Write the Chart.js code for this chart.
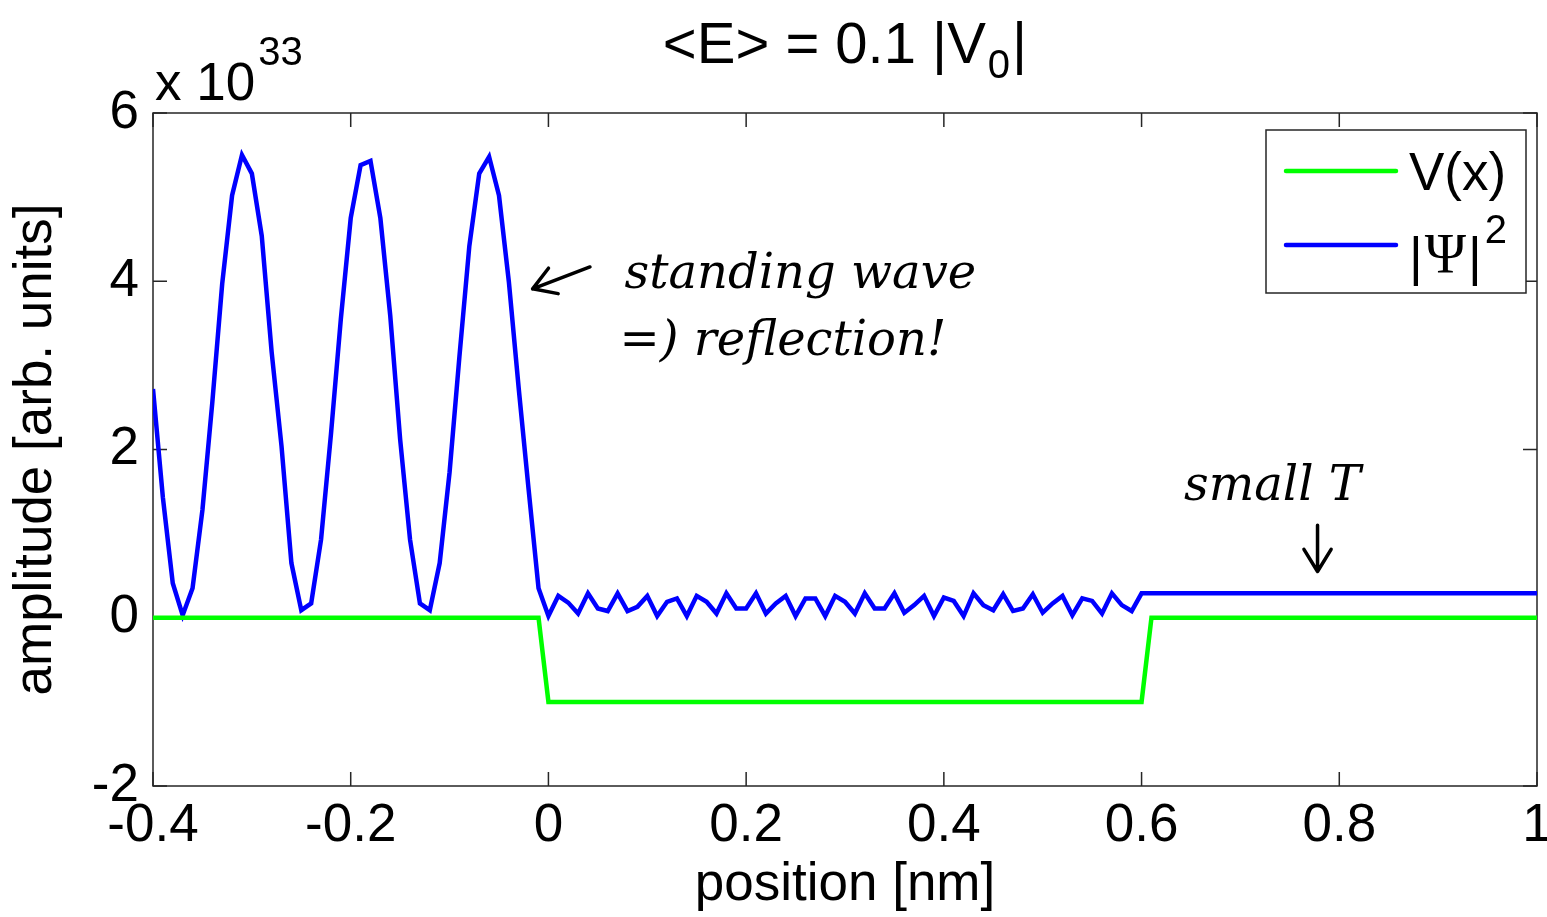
<!DOCTYPE html>
<html>
<head>
<meta charset="utf-8">
<script src="https://cdn.jsdelivr.net/npm/chart.js@4.4.1/dist/chart.umd.min.js"></script>
<style>
  html, body { margin: 0; padding: 0; background: #fff; }
  #wrap { width: 1547px; height: 917px; }
</style>
</head>
<body>
<div id="wrap"><canvas id="grafico" width="1547" height="917"></canvas></div>
<script>
// sampling positions [nm]
var positions = [
  -0.40, -0.39, -0.38, -0.37, -0.36, -0.35, -0.34, -0.33, -0.32, -0.31,
  -0.30, -0.29, -0.28, -0.27, -0.26, -0.25, -0.24, -0.23, -0.22, -0.21,
  -0.20, -0.19, -0.18, -0.17, -0.16, -0.15, -0.14, -0.13, -0.12, -0.11,
  -0.10, -0.09, -0.08, -0.07, -0.06, -0.05, -0.04, -0.03, -0.02, -0.01,
  0.00, 0.01, 0.02, 0.03, 0.04, 0.05, 0.06, 0.07, 0.08, 0.09,
  0.10, 0.11, 0.12, 0.13, 0.14, 0.15, 0.16, 0.17, 0.18, 0.19,
  0.20, 0.21, 0.22, 0.23, 0.24, 0.25, 0.26, 0.27, 0.28, 0.29,
  0.30, 0.31, 0.32, 0.33, 0.34, 0.35, 0.36, 0.37, 0.38, 0.39,
  0.40, 0.41, 0.42, 0.43, 0.44, 0.45, 0.46, 0.47, 0.48, 0.49,
  0.50, 0.51, 0.52, 0.53, 0.54, 0.55, 0.56, 0.57, 0.58, 0.59,
  0.60, 0.61, 0.62, 0.63, 0.64, 0.65, 0.66, 0.67, 0.68, 0.69,
  0.70, 0.71, 0.72, 0.73, 0.74, 0.75, 0.76, 0.77, 0.78, 0.79,
  0.80, 0.81, 0.82, 0.83, 0.84, 0.85, 0.86, 0.87, 0.88, 0.89,
  0.90, 0.91, 0.92, 0.93, 0.94, 0.95, 0.96, 0.97, 0.98, 0.99,
  1.00
];

// V(x), in units of |V0|
var potential = [
  0, 0, 0, 0, 0, 0, 0, 0, 0, 0,
  0, 0, 0, 0, 0, 0, 0, 0, 0, 0,
  0, 0, 0, 0, 0, 0, 0, 0, 0, 0,
  0, 0, 0, 0, 0, 0, 0, 0, 0, 0,
  -1, -1, -1, -1, -1, -1, -1, -1, -1, -1,
  -1, -1, -1, -1, -1, -1, -1, -1, -1, -1,
  -1, -1, -1, -1, -1, -1, -1, -1, -1, -1,
  -1, -1, -1, -1, -1, -1, -1, -1, -1, -1,
  -1, -1, -1, -1, -1, -1, -1, -1, -1, -1,
  -1, -1, -1, -1, -1, -1, -1, -1, -1, -1,
  -1, 0, 0, 0, 0, 0, 0, 0, 0, 0,
  0, 0, 0, 0, 0, 0, 0, 0, 0, 0,
  0, 0, 0, 0, 0, 0, 0, 0, 0, 0,
  0, 0, 0, 0, 0, 0, 0, 0, 0, 0,
  0
];

// |Psi|^2 in units of 1e33
var psiSq = [
  2.72, 1.43, 0.41, 0.03, 0.35, 1.28, 2.56, 3.97, 5.02, 5.50,
  5.28, 4.54, 3.16, 2.04, 0.65, 0.09, 0.17, 0.93, 2.18, 3.55,
  4.75, 5.38, 5.43, 4.75, 3.59, 2.12, 0.93, 0.17, 0.09, 0.65,
  1.73, 3.11, 4.42, 5.28, 5.48, 5.02, 3.99, 2.72, 1.52, 0.35,
  0.02, 0.26, 0.18, 0.05, 0.29, 0.11, 0.08, 0.29, 0.08, 0.13,
  0.26, 0.02, 0.19, 0.23, 0.02, 0.26, 0.19, 0.05, 0.29, 0.11,
  0.11, 0.29, 0.05, 0.17, 0.26, 0.02, 0.23, 0.23, 0.02, 0.26,
  0.19, 0.05, 0.29, 0.11, 0.11, 0.29, 0.06, 0.15, 0.26, 0.02,
  0.24, 0.20, 0.02, 0.29, 0.15, 0.09, 0.28, 0.08, 0.11, 0.28,
  0.06, 0.17, 0.26, 0.03, 0.23, 0.20, 0.05, 0.29, 0.15, 0.08,
  0.29, 0.29, 0.29, 0.29, 0.29, 0.29, 0.29, 0.29, 0.29, 0.29,
  0.29, 0.29, 0.29, 0.29, 0.29, 0.29, 0.29, 0.29, 0.29, 0.29,
  0.29, 0.29, 0.29, 0.29, 0.29, 0.29, 0.29, 0.29, 0.29, 0.29,
  0.29, 0.29, 0.29, 0.29, 0.29, 0.29, 0.29, 0.29, 0.29, 0.29,
  0.29
];

var xTicks = [-0.4, -0.2, 0, 0.2, 0.4, 0.6, 0.8, 1];
var yTicks = [-2, 0, 2, 4, 6];

// handwritten notes, placed in data coordinates
var notes = [
  { text: 'standing wave', x: 0.077, y: 3.92 },
  { text: '=) reflection!', x: 0.072, y: 3.12 },
  { text: 'small T', x: 0.643, y: 1.40 }
];

function points(ys) {
  return ys.map(function (v, i) { return { x: positions[i], y: v }; });
}

Chart.defaults.font.family = '"Liberation Sans", Arial, sans-serif';
Chart.defaults.color = '#000';

var FS = 53;

var matlabFrame = {
  id: 'matlabFrame',
  beforeDatasetsDraw: function (chart) {
    var ctx = chart.ctx, a = chart.chartArea, x = chart.scales.x, y = chart.scales.y;
    ctx.save();
    ctx.strokeStyle = '#262626';
    ctx.lineWidth = 1.5;
    ctx.strokeRect(a.left, a.top, a.right - a.left, a.bottom - a.top);
    ctx.beginPath();
    xTicks.forEach(function (t) {
      var px = x.getPixelForValue(t);
      ctx.moveTo(px, a.bottom); ctx.lineTo(px, a.bottom - 14);
      ctx.moveTo(px, a.top); ctx.lineTo(px, a.top + 14);
    });
    yTicks.forEach(function (t) {
      var py = y.getPixelForValue(t);
      ctx.moveTo(a.left, py); ctx.lineTo(a.left + 14, py);
      ctx.moveTo(a.right, py); ctx.lineTo(a.right - 14, py);
    });
    ctx.stroke();
    ctx.restore();
  },
  afterDraw: function (chart) {
    var ctx = chart.ctx, a = chart.chartArea, x = chart.scales.x, y = chart.scales.y;
    ctx.save();
    ctx.fillStyle = '#000';
    ctx.textBaseline = 'alphabetic';

    // title: <E> = 0.1 |V0|
    var big = '58px "Liberation Sans"', small = '40px "Liberation Sans"';
    ctx.font = big;
    var p1 = '<E> = 0.1 |V', p3 = '|';
    var w1 = ctx.measureText(p1).width, w3 = ctx.measureText(p3).width;
    ctx.font = small;
    var w2 = ctx.measureText('0').width;
    var cx = (a.left + a.right) / 2;
    var tx = cx - (w1 + w2 + w3 + 4) / 2;
    ctx.font = big;
    ctx.fillText(p1, tx, 63);
    ctx.font = small;
    ctx.fillText('0', tx + w1 + 2, 78);
    ctx.font = big;
    ctx.fillText(p3, tx + w1 + w2 + 4, 63);

    // exponent label
    ctx.font = FS + 'px "Liberation Sans"';
    ctx.fillText('x 10', a.left + 2, 100);
    var wx = ctx.measureText('x 10').width;
    ctx.font = '40px "Liberation Sans"';
    ctx.fillText('33', a.left + 2 + wx + 3, 65);

    // legend
    var lw = 260, lh = 163;
    var lx = a.right - 11 - lw, ly = a.top + 17;
    ctx.fillStyle = '#fff';
    ctx.fillRect(lx, ly, lw, lh);
    ctx.strokeStyle = '#262626';
    ctx.lineWidth = 1.5;
    ctx.strokeRect(lx, ly, lw, lh);
    var rows = [ly + 41, ly + 115];
    chart.data.datasets.forEach(function (ds, i) {
      ctx.strokeStyle = ds.borderColor;
      ctx.lineWidth = 4.5;
      ctx.lineCap = 'round';
      ctx.beginPath();
      ctx.moveTo(lx + 20, rows[i]);
      ctx.lineTo(lx + 130, rows[i]);
      ctx.stroke();
    });
    ctx.fillStyle = '#000';
    ctx.font = FS + 'px "Liberation Sans"';
    ctx.fillText('V(x)', lx + 143, rows[0] + 19);
    var bx = lx + 143, by = rows[1] + 30;
    ctx.fillText('|', bx, by);
    bx += ctx.measureText('|').width + 2;
    ctx.font = '56px "Liberation Serif"';
    ctx.fillText('\u03A8', bx, by - 2);
    bx += ctx.measureText('\u03A8').width + 2;
    ctx.font = FS + 'px "Liberation Sans"';
    ctx.fillText('|', bx, by);
    bx += ctx.measureText('|').width + 3;
    ctx.font = '40px "Liberation Sans"';
    ctx.fillText('2', bx, by - 32);

    // handwritten notes
    ctx.font = 'italic 48px "DejaVu Serif"';
    notes.forEach(function (n) {
      ctx.fillText(n.text, x.getPixelForValue(n.x), y.getPixelForValue(n.y));
    });

    // arrows
    ctx.strokeStyle = '#000';
    ctx.lineWidth = 3.5;
    ctx.lineCap = 'round';
    ctx.lineJoin = 'round';
    function arrow(x0, y0, x1, y1) {
      var X0 = x.getPixelForValue(x0), Y0 = y.getPixelForValue(y0);
      var X1 = x.getPixelForValue(x1), Y1 = y.getPixelForValue(y1);
      var ang = Math.atan2(Y1 - Y0, X1 - X0), h = 26;
      ctx.beginPath();
      ctx.moveTo(X0, Y0); ctx.lineTo(X1, Y1);
      ctx.moveTo(X1 - h * Math.cos(ang - 0.55), Y1 - h * Math.sin(ang - 0.55));
      ctx.lineTo(X1, Y1);
      ctx.lineTo(X1 - h * Math.cos(ang + 0.55), Y1 - h * Math.sin(ang + 0.55));
      ctx.stroke();
    }
    arrow(0.042, 4.17, -0.016, 3.91);
    arrow(0.778, 1.10, 0.778, 0.55);

    ctx.restore();
  }
};

var ctx = document.querySelector('#grafico').getContext('2d');
var chart = new Chart(ctx, {
  type: 'line',
  data: {
    datasets: [{
      label: 'V(x)',
      data: points(potential),
      borderColor: '#00ff00',
      borderWidth: 4.5,
      pointRadius: 0,
      tension: 0,
      fill: false
    }, {
      label: '|\u03A8|\u00B2',
      data: points(psiSq),
      borderColor: '#0000ff',
      borderWidth: 4.5,
      pointRadius: 0,
      tension: 0,
      fill: false
    }]
  },
  options: {
    responsive: false,
    animation: false,
    layout: { padding: { left: 0, right: 10, top: 113, bottom: 0 } },
    plugins: {
      legend: { display: false },
      tooltip: { enabled: false },
      title: { display: false }
    },
    scales: {
      x: {
        type: 'linear',
        min: -0.4,
        max: 1,
        afterBuildTicks: function (s) { s.ticks = xTicks.map(function (v) { return { value: v }; }); },
        afterFit: function (s) { s.height = 131; s.paddingLeft = 0; s.paddingRight = 0; },
        grid: { display: false, drawTicks: false },
        border: { display: false },
        ticks: {
          padding: 9,
          maxRotation: 0,
          autoSkip: false,
          font: { size: FS },
          callback: function (v) { return String(Number(v.toFixed(1))); }
        },
        title: {
          display: true,
          text: 'position [nm]',
          font: { size: FS },
          padding: { top: 0, bottom: 0 }
        }
      },
      y: {
        type: 'linear',
        min: -2,
        max: 6,
        afterBuildTicks: function (s) { s.ticks = yTicks.map(function (v) { return { value: v }; }); },
        afterFit: function (s) { s.width = 153; s.paddingTop = 0; s.paddingBottom = 0; },
        grid: { display: false, drawTicks: false },
        border: { display: false },
        ticks: {
          padding: 14,
          autoSkip: false,
          font: { size: FS },
          callback: function (v) { return String(v); }
        },
        title: {
          display: true,
          text: 'amplitude [arb. units]',
          font: { size: FS },
          padding: { top: 5, bottom: 0 }
        }
      }
    }
  },
  plugins: [matlabFrame]
});
</script>
</body>
</html>
